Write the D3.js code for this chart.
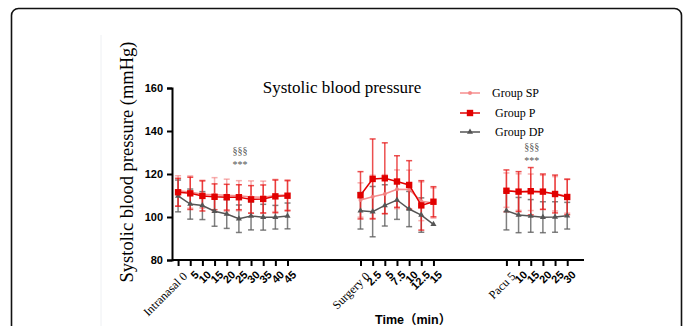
<!DOCTYPE html>
<html><head><meta charset="utf-8">
<script src="https://cdn.jsdelivr.net/npm/d3@7"></script>
<style>html,body{margin:0;padding:0;background:#fff;overflow:hidden}svg{display:block}</style>
</head><body><svg id="c" width="683" height="326"></svg>
<script>
// ---- data ----
const groupNames = ["Intranasal", "Surgery", "Pacu"];
const intranasalLabels = ["Intranasal 0","5","10","15","20","25","30","35","40","45"];
const surgeryLabels = ["Surgery 0","2.5","5","7.5","10","12.5","15"];
const pacuLabels = ["Pacu 5","10","15","20","25","30"];
const seriesNames = ["Group SP","Group P","Group DP"];

const spMean = [112.2,111.6,110.6,110.3,110.1,109.9,109.3,109.2,110.0,110.3,
                107.9,109.4,110.7,112.9,112.8,107.3,106.5,
                112.5,111.6,111.5,111.4,110.8,109.8];
const spSD   = [7,7.5,6.5,8,7.5,7,7.5,7.5,7.5,7,
                8,10,9,9,9,9,7,
                8,8.5,8.5,8,8,8];
const pMean  = [111.5,111.0,109.8,109.4,109.2,109.2,108.2,108.4,109.6,109.9,
                110.1,117.7,118.0,116.5,114.9,105.4,107.1,
                112.2,111.8,112.0,111.8,110.7,109.3];
const pSD    = [6.5,7.5,7,6,6,5.8,6.4,6.5,7.6,7,
                11,18.6,16.5,12,11.3,11.5,7,
                9.7,9.3,11,8.2,8.8,8.2];
const dpMean = [109.8,106.0,105.3,102.7,101.4,99.2,100.5,99.9,99.9,100.5,
                102.9,102.5,105.4,107.9,103.7,100.9,96.6,
                102.9,100.9,100.5,99.9,100.0,100.6];
const dpSD   = [7.4,7,6.5,7,6.7,6.4,6.5,6,5.5,6,
                8.5,11.7,9.6,9,8.2,8,0,
                8.9,8.2,7.6,7.2,7.1,6.2];
const yTicks = [80,100,120,140,160];
const sigMarks = [{label:"25", group:0, sym:["§§§","***"]},{label:"15", group:2, sym:["§§§","***"]}];

// ---- layout ----
const svg = d3.select("#c");
const GAP = 5;
const groupsLabels = [intranasalLabels, surgeryLabels, pacuLabels];
const pts = [];
let idx = 0;
groupsLabels.forEach((labs, g) => {
  labs.forEach((l, j) => { pts.push({label:l, group:g, first:j===0, pos:idx}); idx++; });
  idx += GAP;
});
pts.forEach((p,i)=>{ p.sp=spMean[i]; p.spsd=spSD[i]; p.p=pMean[i]; p.psd=pSD[i]; p.dp=dpMean[i]; p.dpsd=dpSD[i]; });

const x = d3.scaleLinear().domain([-0.5, 33.38]).range([172, 584]);
const y = d3.scaleLinear().domain([80, 160]).range([260, 88]);

// frame
svg.append("rect").attr("x",11.5).attr("y",8.5).attr("width",670).attr("height",340)
  .attr("rx",7).attr("fill","none").attr("stroke","#111").attr("stroke-width",1.6);
svg.append("line").attr("x1",101).attr("x2",101).attr("y1",35).attr("y2",326)
  .attr("stroke","#eef0f3").attr("stroke-width",1);

// y axis
const yAxis = svg.append("g").attr("transform","translate(172,0)")
  .call(d3.axisLeft(y).tickValues(yTicks).tickSize(5).tickFormat(d3.format("d")));
yAxis.select(".domain").attr("stroke","#000").attr("stroke-width",2);
yAxis.selectAll(".tick line").attr("stroke","#000").attr("stroke-width",2);
yAxis.selectAll(".tick text").attr("font-family","Liberation Sans, Arial, sans-serif")
  .attr("font-weight","bold").attr("font-size",11).attr("fill","#000").attr("dx",-1);

// x axis
const xAxis = svg.append("g").attr("transform","translate(0,260)")
  .call(d3.axisBottom(x).tickValues(pts.map(p=>p.pos)).tickSize(6).tickFormat(""));
xAxis.select(".domain").attr("stroke","#000").attr("stroke-width",2).attr("d","M172,0H584");
xAxis.selectAll(".tick line").attr("stroke","#000").attr("stroke-width",2);

// x tick labels
svg.append("g").selectAll("text").data(pts).join("text")
  .attr("transform", d => `translate(${x(d.pos)+4},${d.first?271:270}) rotate(-45)`)
  .attr("text-anchor","end")
  .attr("font-family", d => d.first ? "Liberation Serif, Times New Roman, serif" : "Liberation Sans, Arial, sans-serif")
  .attr("font-weight", d => d.first ? "normal" : "bold")
  .attr("font-size", d => d.first ? 12 : 11)
  .attr("dy","0.7em")
  .text(d => d.label);

// titles
svg.append("text").attr("transform","translate(133,162) rotate(-90)")
  .attr("text-anchor","middle").attr("font-family","Liberation Serif, Times New Roman, serif")
  .attr("font-size",18.5).text("Systolic blood pressure (mmHg)");
svg.append("text").attr("x",342).attr("y",93).attr("text-anchor","middle")
  .attr("font-family","Liberation Serif, Times New Roman, serif").attr("font-size",17)
  .text("Systolic blood pressure");
svg.append("text").attr("x",375).attr("y",324)
  .attr("font-family","Liberation Sans, Arial, 'Noto Sans CJK SC', sans-serif")
  .attr("font-weight","bold").attr("font-size",12.5).text("Time（min）");

// series config
const series = [
  {key:"dp", sd:"dpsd", line:"rgb(85,85,85)", err:"rgba(95,95,95,0.8)", marker:"tri"},
  {key:"sp", sd:"spsd", line:"rgba(244,130,130,0.9)", err:"rgba(240,110,110,0.55)", marker:"circ"},
  {key:"p",  sd:"psd",  line:"rgb(225,0,0)", err:"rgba(230,20,20,0.75)", marker:"sq"}
];
const cap = 3;
series.forEach(s => {
  const g = svg.append("g");
  pts.filter(d => d[s.sd] > 0).forEach(d => {
    const cx = x(d.pos), y1 = y(d[s.key]+d[s.sd]), y2 = y(d[s.key]-d[s.sd]);
    g.append("line").attr("x1",cx).attr("x2",cx).attr("y1",y1).attr("y2",y2).attr("stroke",s.err).attr("stroke-width",1.5);
    [y1,y2].forEach(yy => g.append("line").attr("x1",cx-cap).attr("x2",cx+cap).attr("y1",yy).attr("y2",yy).attr("stroke",s.err).attr("stroke-width",1.5));
  });
});
const lineGen = k => d3.line().x(d=>x(d.pos)).y(d=>y(d[k]));
function marker(g, type, cx, cy, color){
  if(type==="sq") g.append("rect").attr("x",cx-3.2).attr("y",cy-3.2).attr("width",6.4).attr("height",6.4).attr("fill",color);
  else if(type==="circ") g.append("circle").attr("cx",cx).attr("cy",cy).attr("r",2).attr("fill",color);
  else g.append("path").attr("d",d3.symbol(d3.symbolTriangle,16)()).attr("transform",`translate(${cx},${cy})`).attr("fill",color);
}
series.forEach(s => {
  const g = svg.append("g");
  [0,1,2].forEach(gi => {
    const gp = pts.filter(d=>d.group===gi);
    g.append("path").datum(gp).attr("d", lineGen(s.key)).attr("fill","none").attr("stroke",s.line).attr("stroke-width",1.5);
  });
  pts.forEach(d => marker(g, s.marker, x(d.pos), y(d[s.key]), s.line));
});

// significance marks
sigMarks.forEach(m => {
  const p = pts.find(d => d.group===m.group && d.label===m.label);
  const top = m.group===0 ? 154 : 150;
  m.sym.forEach((t,i) => svg.append("text").attr("x",x(p.pos)+1).attr("y",top+i*13.5)
    .attr("text-anchor","middle").attr("font-family","Liberation Serif, Times New Roman, serif")
    .attr("font-size",10).attr("fill","#555").text(t));
});

// legend
const legY = [93,113,132];
const legSeries = [series[1], series[2], series[0]];
legSeries.forEach((s,i) => {
  const g = svg.append("g");
  g.append("line").attr("x1",460).attr("x2",480).attr("y1",legY[i]).attr("y2",legY[i]).attr("stroke",s.line).attr("stroke-width",1.5);
  marker(g, s.marker, 470, legY[i], s.line);
  g.append("text").attr("x", i===0?492:495).attr("y",legY[i]+4)
    .attr("font-family","Liberation Serif, Times New Roman, serif").attr("font-size",12).text(seriesNames[i]);
});
</script></body></html>
